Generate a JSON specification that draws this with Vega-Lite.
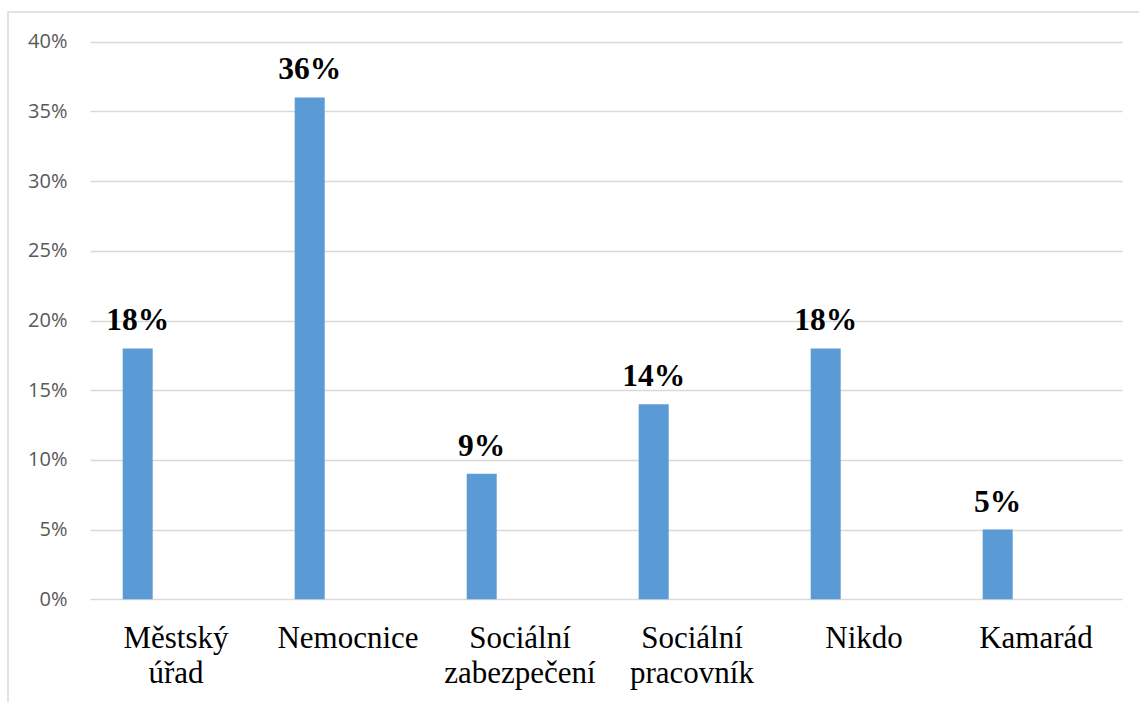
{
  "$schema": "https://vega.github.io/schema/vega-lite/v6.json",
  "autosize": {"type": "none"},
  "padding": {"left": 8, "top": 12, "right": 0, "bottom": 0},
  "width": 1140,
  "height": 700,
  "background": "white",
  "config": {
    "view": {"stroke": "#d9d9d9", "strokeWidth": 1.5}
  },
  "data": {
    "values": [
      {"kategorie": "Městský úřad", "podil": 0.18},
      {"kategorie": "Nemocnice", "podil": 0.36},
      {"kategorie": "Sociální zabezpečení", "podil": 0.09},
      {"kategorie": "Sociální pracovník", "podil": 0.14},
      {"kategorie": "Nikdo", "podil": 0.18},
      {"kategorie": "Kamarád", "podil": 0.05}
    ]
  },
  "encoding": {
    "x": {
      "field": "kategorie",
      "type": "nominal",
      "sort": null,
      "scale": {"range": [82, 1114], "paddingInner": 0, "paddingOuter": 0},
      "axis": {
        "title": null,
        "orient": "bottom",
        "offset": -112.7,
        "domain": false,
        "ticks": false,
        "grid": false,
        "labelAngle": 0,
        "labelFont": "Liberation Serif",
        "labelFontSize": 31,
        "labelColor": "#000000",
        "labelPadding": 24,
        "labelLineHeight": 35,
        "labelExpr": "split(datum.label, ' ')"
      }
    },
    "y": {
      "field": "podil",
      "type": "quantitative",
      "scale": {"domain": [0, 0.4], "range": [587.3, 29.7], "nice": false},
      "axis": {
        "title": null,
        "orient": "left",
        "offset": -82,
        "values": [0, 0.05, 0.1, 0.15, 0.2, 0.25, 0.3, 0.35, 0.4],
        "format": ".0%",
        "domain": false,
        "ticks": false,
        "grid": true,
        "gridColor": "#d9d9d9",
        "gridWidth": 1.5,
        "labelFont": "Open Sans",
        "labelFontSize": 20,
        "labelColor": "#595959",
        "labelPadding": 23
      }
    }
  },
  "layer": [
    {
      "mark": {"type": "bar", "width": 30, "xOffset": -38.3, "color": "#5b9bd5"}
    },
    {
      "mark": {
        "type": "text",
        "xOffset": -38.3,
        "dy": -18,
        "baseline": "alphabetic",
        "align": "center",
        "font": "Liberation Serif",
        "fontWeight": "bold",
        "fontSize": 31.5,
        "color": "#000000"
      },
      "encoding": {
        "text": {"field": "podil", "type": "quantitative", "format": ".0%"}
      }
    }
  ]
}
